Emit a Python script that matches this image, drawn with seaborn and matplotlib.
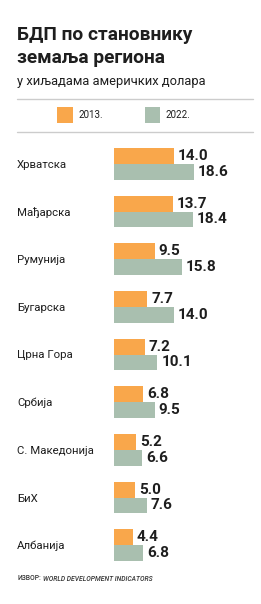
import numpy as np
import pandas as pd
import matplotlib
matplotlib.use("Agg")
import matplotlib.pyplot as plt
import seaborn as sns
from matplotlib.lines import Line2D
from matplotlib.patches import Patch

# подаци
countries = ["Хрватска", "Мађарска", "Румунија", "Бугарска", "Црна Гора",
             "Србија", "С. Македонија", "БиХ", "Албанија"]
gdp_2013 = [14.0, 13.7, 9.5, 7.7, 7.2, 6.8, 5.2, 5.0, 4.4]
gdp_2022 = [18.6, 18.4, 15.8, 14.0, 10.1, 9.5, 6.6, 7.6, 6.8]
years = ["2013.", "2022."]

title_lines = ["БДП по становнику", "земаља региона"]
subtitle = "у хиљадама америчких долара"
source_label = "ИЗВОР:"
source_name = "WORLD DEVELOPMENT INDICATORS"

ORANGE = "#F9A74B"
GREEN = "#A9BFAF"
TXT = "#1e1e1e"

sns.set_style("white")
plt.rcParams["font.family"] = ["Roboto", "DejaVu Sans"]

df = pd.DataFrame({
    "country": countries * 2,
    "year": [years[0]] * len(countries) + [years[1]] * len(countries),
    "value": gdp_2013 + gdp_2022,
})

W, H = 261, 604
fig = plt.figure(figsize=(W / 100, H / 100), dpi=100)
ax = fig.add_axes([114 / W, (H - 569) / H, 139 / W, 429 / H])

sns.barplot(data=df, y="country", x="value", hue="year", orient="h",
            palette=[ORANGE, GREEN], saturation=1, width=0.67, linewidth=0,
            legend=False, ax=ax)

ax.set_xlim(0, 32.5)
ax.set_ylim(8.5, -0.5)
ax.set_xlabel("")
ax.set_ylabel("")
ax.set_xticks([])
sns.despine(ax=ax, left=True, bottom=True)
ax.tick_params(axis="y", length=0, pad=97 * 0.72, labelsize=8.2, labelcolor=TXT)
for lbl in ax.get_yticklabels():
    lbl.set_ha("left")

for cont in ax.containers:
    ax.bar_label(cont, fmt="%.1f", padding=3, fontsize=11, fontweight="bold", color=TXT)

# легенда
handles = [Patch(facecolor=c, edgecolor="none") for c in (ORANGE, GREEN)]
fig.legend(handles, years, ncol=2, loc="center", bbox_to_anchor=(124 / W, 1 - 115 / H),
           frameon=False, fontsize=7, handlelength=1.55, handleheight=2.2,
           handletextpad=0.6, columnspacing=4.3, labelcolor=TXT)

# линије
for yy in (99, 132):
    fig.add_artist(Line2D([17 / W, 253 / W], [1 - yy / H, 1 - yy / H],
                          color="#cccccc", lw=1, transform=fig.transFigure))

# наслов
fig.text(17 / W, 1 - 40 / H, title_lines[0], fontsize=13.8, fontweight="bold",
         color=TXT, va="baseline")
fig.text(17 / W, 1 - 63 / H, title_lines[1], fontsize=13.8, fontweight="bold",
         color=TXT, va="baseline")
fig.text(17 / W, 1 - 85 / H, subtitle, fontsize=9.3, color=TXT, va="baseline")

# извор
t1 = fig.text(17 / W, 1 - 580 / H, source_label, fontsize=4.9, color="#333333",
              va="baseline", fontweight="medium")
ax.annotate(source_name, xy=(1, 0), xycoords=t1, xytext=(1.5, 0),
            textcoords="offset points", va="bottom", ha="left",
            fontsize=4.9, style="italic", fontweight="medium", color="#333333",
            annotation_clip=False)

fig.savefig("out.png", dpi=100)
